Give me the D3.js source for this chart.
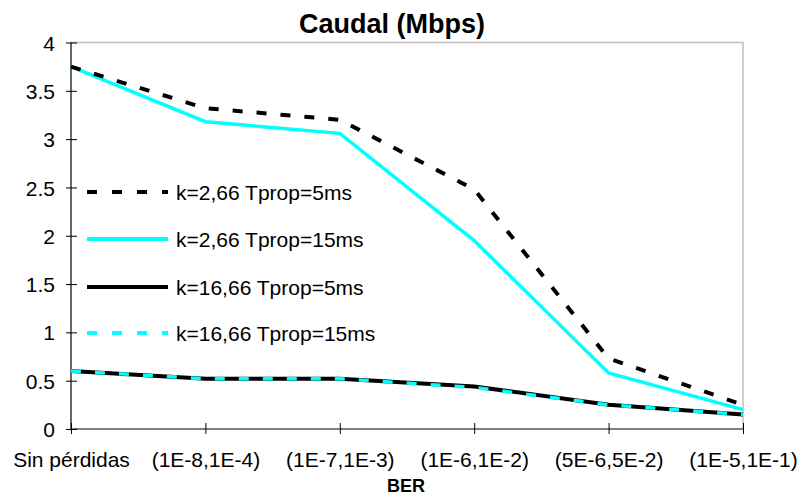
<!DOCTYPE html>
<html><head><meta charset="utf-8">
<script src="https://cdn.jsdelivr.net/npm/d3@7"></script>
<style>body{margin:0;background:#fff}svg{display:block;font-family:"Liberation Sans",Arial,sans-serif}</style>
</head><body><svg width="801" height="495"></svg>
<script>
const categories = ["Sin pérdidas","(1E-8,1E-4)","(1E-7,1E-3)","(1E-6,1E-2)","(5E-6,5E-2)","(1E-5,1E-1)"];
const yTicks = [0,0.5,1,1.5,2,2.5,3,3.5,4];
const s1 = [3.75,3.32,3.2,2.48,0.73,0.25];
const s2 = [3.75,3.18,3.06,1.95,0.58,0.2];
const s3 = [0.6,0.52,0.52,0.44,0.25,0.15];
const s4 = [0.6,0.52,0.52,0.43,0.25,0.15];
const seriesNames = ["k=2,66 Tprop=5ms","k=2,66 Tprop=15ms","k=16,66 Tprop=5ms","k=16,66 Tprop=15ms"];

const series = [
  {name:seriesNames[0], values:s1, color:"#000", width:4, dash:"10,14"},
  {name:seriesNames[1], values:s2, color:"#00FFFF", width:3.5, dash:null},
  {name:seriesNames[2], values:s3, color:"#000", width:4, dash:null},
  {name:seriesNames[3], values:s4, color:"#00FFFF", width:3.5, dash:"10,14"}
];

const FONT='"Liberation Sans",Arial,sans-serif';
const svg = d3.select("svg");
const L=71,R=743,T=42.5,B=429;
const x = d3.scalePoint().domain(categories).range([L,R]);
const y = d3.scaleLinear().domain([0,4]).range([B,T]);

svg.append("path").attr("d",`M${L},${T}H${R}V${B}`).attr("fill","none").attr("stroke","#c0c0c0").attr("stroke-width",1.5);

const yAxis = svg.append("g").attr("transform",`translate(${L},0)`)
  .call(d3.axisLeft(y).tickValues(yTicks).tickSize(5).tickFormat(d=>String(d)));
yAxis.selectAll(".tick line").attr("x1",6).attr("x2",-5);
yAxis.selectAll(".tick text").attr("x",-16).attr("dy","0.36em");
const xAxis = svg.append("g").attr("transform",`translate(0,${B})`)
  .call(d3.axisBottom(x).tickSize(5));
xAxis.selectAll(".tick line").attr("y1",-6).attr("y2",5);
xAxis.selectAll(".tick text").attr("y",38).attr("dy",0);
[yAxis,xAxis].forEach(a=>{
  a.attr("font-size",null).attr("font-family",null);
  a.select(".domain").attr("stroke","#000").attr("stroke-width",1.2);
  a.selectAll(".tick line").attr("stroke","#000").attr("stroke-width",1);
  a.selectAll("text").attr("fill","#000").style("font-size","21px").style("font-family",FONT);
});
xAxis.select(".domain").attr("d",`M${L},0H${R}`);
yAxis.select(".domain").attr("d",`M0,${B}V${T}`);

const line = d3.line().x((d,i)=>x(categories[i])).y(d=>y(d));
const order=[2,3,1,0];
order.forEach(i=>{
  const s=series[i];
  svg.append("path").datum(s.values).attr("d",line).attr("fill","none")
    .attr("stroke",s.color).attr("stroke-width",s.width)
    .attr("stroke-dasharray",s.dash).attr("stroke-linejoin","miter");
});

const legY=[192,239,287,333];
series.forEach((s,i)=>{
  svg.append("line").attr("x1",87).attr("x2",168).attr("y1",legY[i]).attr("y2",legY[i])
    .attr("stroke",s.color).attr("stroke-width",4).attr("stroke-dasharray",s.dash?"10,15":null);
  svg.append("text").attr("x",176).attr("y",legY[i]+7.5).text(s.name)
    .style("font-size","21px").style("font-family",FONT).attr("fill","#000");
});

svg.append("text").attr("x",392).attr("y",33).attr("text-anchor","middle")
  .style("font-size","27px").style("font-weight","bold").style("font-family",FONT).text("Caudal (Mbps)");
svg.append("text").attr("x",406).attr("y",492).attr("text-anchor","middle")
  .style("font-size","18px").style("font-weight","bold").style("font-family",FONT).text("BER");
</script></body></html>
